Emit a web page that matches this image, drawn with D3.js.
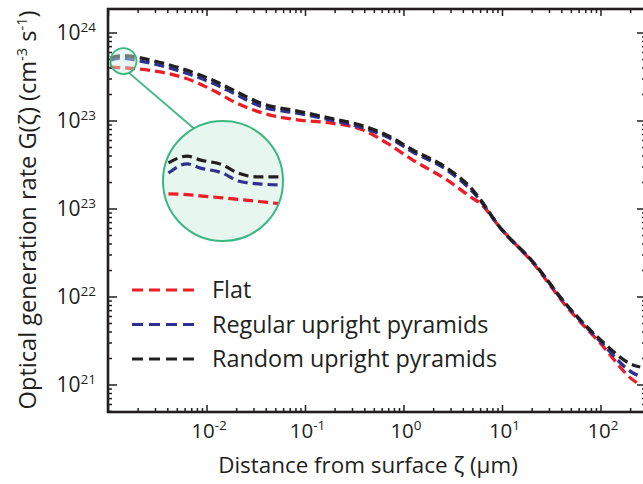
<!DOCTYPE html>
<html>
<head>
<meta charset="utf-8">
<script src="https://cdn.jsdelivr.net/npm/d3@7/dist/d3.min.js"></script>
<style>
  html, body { margin: 0; padding: 0; background: #fff; }
  svg { display: block; font-family: "Open Sans", "Noto Sans", sans-serif; }
</style>
</head>
<body>
<svg id="chart" width="643" height="484"></svg>
<script>
// Depth below the surface (µm) at which the generation rate is sampled
const depth = [0.00104, 0.00131, 0.00154, 0.00264, 0.0057, 0.0126, 0.0184, 0.0371, 0.082, 0.177,
               0.384, 0.672, 1.23, 2.73, 5.0, 5.9, 9.4, 20.4, 45, 98, 211, 250];

// Optical generation rate G(ζ), cm^-3 s^-1
const flatG    = [4.1e23, 4.05e23, 4.0e23, 3.75e23, 3.13e23, 2.12e23, 1.67e23, 1.23e23, 1.03e23, 9.5e22,
                  7.9e22, 5.6e22, 3.6e22, 2.14e22, 1.32e22, 1.17e22, 6.2e21, 2.43e21, 7.7e20, 3.0e20, 1.14e20, 1.0e20];
const regularG = [4.9e23, 5.2e23, 5.1e23, 4.56e23, 3.6e23, 2.56e23, 2.08e23, 1.44e23, 1.23e23, 1.03e23,
                  8.3e22, 6.6e22, 4.45e22, 2.77e22, 1.56e22, 1.26e22, 6.2e21, 2.5e21, 8.0e20, 3.15e20, 1.37e20, 1.25e20];
const randomG  = [5.2e23, 5.5e23, 5.5e23, 4.93e23, 3.9e23, 2.77e23, 2.25e23, 1.56e23, 1.30e23, 1.08e23,
                  8.8e22, 6.9e22, 4.68e22, 2.92e22, 1.64e22, 1.3e22, 6.2e21, 2.5e21, 8.1e20, 3.3e20, 1.69e20, 1.6e20];

// Close-up of the first few nanometres (shown in the magnifier)
const insetDepth    = [0.00106, 0.00117, 0.00125, 0.00141, 0.00153, 0.00171, 0.00193];
const insetFlatG    = [4.47e23, 4.45e23, 4.42e23, 4.37e23, 4.33e23, 4.28e23, 4.22e23];
const insetRegularG = [5.03e23, 5.3e23, 5.18e23, 5.03e23, 4.81e23, 4.73e23, 4.7e23];
const insetRandomG  = [5.33e23, 5.54e23, 5.42e23, 5.27e23, 5.03e23, 4.92e23, 4.92e23];

const seriesNames  = ["Flat", "Regular upright pyramids", "Random upright pyramids"];
const seriesColors = ["#ee1d25", "#2e3192", "#231f20"];

// Tick labels: base "10" with a superscript exponent
const yTickValues    = [1e24, 1e23, 1e22, 1e21, 1e20];
const yTickExponents = ["24", "23", "23", "22", "21"];
const xTickValues    = [1e-2, 1e-1, 1e0, 1e1, 1e2];
const xTickExponents = ["-2", "-1", "0", "1", "2"];

const xTitle = "Distance from surface ζ (µm)";

const svg = d3.select("#chart");
const plot = { left: 108, right: 646, top: 9, bottom: 412 };

const x = d3.scaleLog().domain([Math.pow(10, -3.005), Math.pow(10, 2.457)]).range([plot.left, plot.right]);
const y = d3.scaleLog().domain([Math.pow(10, 19.693), Math.pow(10, 24.2727)]).range([plot.bottom, plot.top]);

const ink = "#231f20";

// minor + major tick positions
function logTicks(scale) {
  const [a, b] = scale.domain();
  const out = [];
  for (let e = Math.floor(Math.log10(a)); e <= Math.ceil(Math.log10(b)); e++) {
    for (let m = 1; m <= 9; m++) {
      const v = m * Math.pow(10, e);
      if (v >= a * 1.0001 && v <= b / 1.0001) out.push({ v, major: m === 1 });
    }
  }
  return out;
}

const clipId = "plotClip";
svg.append("defs").append("clipPath").attr("id", clipId)
  .append("rect").attr("x", plot.left).attr("y", plot.top)
  .attr("width", plot.right - plot.left).attr("height", plot.bottom - plot.top);

// curves
const seriesG = [flatG, regularG, randomG];
const line = d3.line().curve(d3.curveMonotoneX).x(d => x(d[0])).y(d => y(d[1]));
const curves = svg.append("g").attr("clip-path", `url(#${clipId})`);
seriesG.forEach((vals, i) => {
  curves.append("path")
    .datum(depth.map((d, k) => [d, vals[k]]))
    .attr("d", line)
    .attr("fill", "none")
    .attr("stroke", seriesColors[i])
    .attr("stroke-width", 3.3)
    .attr("stroke-dasharray", "10,5");
});

// frame + inward ticks
const frame = svg.append("g");
const xt = logTicks(x), yt = logTicks(y);
const majorLen = 7, minorLen = 4;
xt.forEach(t => {
  const px = x(t.v), len = t.major ? majorLen : minorLen;
  frame.append("line").attr("x1", px).attr("x2", px).attr("y1", plot.bottom).attr("y2", plot.bottom - len);
  frame.append("line").attr("x1", px).attr("x2", px).attr("y1", plot.top).attr("y2", plot.top + len);
});
yt.forEach(t => {
  const py = y(t.v), len = t.major ? majorLen + 2 : minorLen;
  frame.append("line").attr("y1", py).attr("y2", py).attr("x1", plot.left).attr("x2", plot.left + len);
  frame.append("line").attr("y1", py).attr("y2", py).attr("x1", plot.right).attr("x2", plot.right - len);
});
frame.selectAll("line").attr("stroke", ink).attr("stroke-width", 1.5);
frame.append("rect")
  .attr("x", plot.left).attr("y", plot.top)
  .attr("width", plot.right - plot.left).attr("height", plot.bottom - plot.top)
  .attr("fill", "none").attr("stroke", ink).attr("stroke-width", 2.6);

// tick labels
function powerLabel(sel, exp) {
  sel.append("tspan").text("10");
  sel.append("tspan").attr("dy", -8.5).attr("font-size", 13.5).text(exp);
}
yTickValues.forEach((v, i) => {
  const t = svg.append("text")
    .attr("x", 96).attr("y", y(v) + 7.5)
    .attr("text-anchor", "end").attr("font-size", 21).attr("fill", ink);
  powerLabel(t, yTickExponents[i]);
});
xTickValues.forEach((v, i) => {
  const t = svg.append("text")
    .attr("x", x(v) + 2).attr("y", 438)
    .attr("text-anchor", "middle").attr("font-size", 20.5).attr("fill", ink);
  powerLabel(t, xTickExponents[i]);
});

// axis titles
svg.append("text")
  .attr("x", 368).attr("y", 473)
  .attr("text-anchor", "middle").attr("font-size", 22.4).attr("fill", ink)
  .text(xTitle);

const yTitle = svg.append("text")
  .attr("transform", "translate(36,210) rotate(-90)")
  .attr("text-anchor", "middle").attr("font-size", 23.6).attr("fill", ink);
yTitle.append("tspan").text("Optical generation rate G(ζ)  (cm");
yTitle.append("tspan").attr("dy", -9).attr("font-size", 14.5).text("-3");
yTitle.append("tspan").attr("dy", 9).text(" s");
yTitle.append("tspan").attr("dy", -9).attr("font-size", 14.5).text("-1");
yTitle.append("tspan").attr("dy", 9).text(")");

// magnifier: small lens on the curves near the surface, enlarged view below
const green = "#3bb882";
const lens = { cx: x(0.00142), cy: y(4.8e23), r: 13 };
const big  = { cx: x(0.01454), cy: y(2.08e22), r: 60 };

const a1 = 65 * Math.PI / 180, a2 = 241 * Math.PI / 180;
svg.append("line")
  .attr("x1", lens.cx + lens.r * Math.cos(a1)).attr("y1", lens.cy + lens.r * Math.sin(a1))
  .attr("x2", big.cx + big.r * Math.cos(a2)).attr("y2", big.cy + big.r * Math.sin(a2))
  .attr("stroke", green).attr("stroke-width", 1.8);

svg.append("circle")
  .attr("cx", lens.cx).attr("cy", lens.cy).attr("r", lens.r)
  .attr("fill", "#cdeee0").attr("fill-opacity", 0.45)
  .attr("stroke", green).attr("stroke-width", 1.8);

svg.select("defs").append("clipPath").attr("id", "lensClip")
  .append("circle").attr("cx", big.cx).attr("cy", big.cy).attr("r", big.r);

svg.append("circle")
  .attr("cx", big.cx).attr("cy", big.cy).attr("r", big.r)
  .attr("fill", "#e8f6f0");

const ix = d3.scaleLog().domain([0.00103, 0.00194]).range([big.cx - big.r, big.cx + big.r]);
const iy = d3.scaleLog().domain([3.42e23, 6.76e23]).range([big.cy + big.r, big.cy - big.r]);
const insetLine = d3.line().curve(d3.curveMonotoneX).x(d => ix(d[0])).y(d => iy(d[1]));
const insetG = svg.append("g").attr("clip-path", "url(#lensClip)");
[insetFlatG, insetRegularG, insetRandomG].forEach((vals, i) => {
  insetG.append("path")
    .datum(insetDepth.map((d, k) => [d, vals[k]]))
    .attr("d", insetLine)
    .attr("fill", "none")
    .attr("stroke", seriesColors[i])
    .attr("stroke-width", 3.2)
    .attr("stroke-dasharray", "10,5");
});
svg.append("circle")
  .attr("cx", big.cx).attr("cy", big.cy).attr("r", big.r)
  .attr("fill", "none").attr("stroke", green).attr("stroke-width", 2);

// legend
const legend = svg.append("g").attr("transform", "translate(132,290)");
seriesNames.forEach((name, i) => {
  const g = legend.append("g").attr("transform", `translate(0,${i * 34.5})`);
  g.append("line").attr("x1", 0).attr("x2", 63).attr("y1", 0).attr("y2", 0)
    .attr("stroke", seriesColors[i]).attr("stroke-width", 3.2).attr("stroke-dasharray", "11,6");
  g.append("text").attr("x", 80).attr("y", 8)
    .attr("font-size", 23.4).attr("fill", ink).text(name);
});
</script>
</body>
</html>
